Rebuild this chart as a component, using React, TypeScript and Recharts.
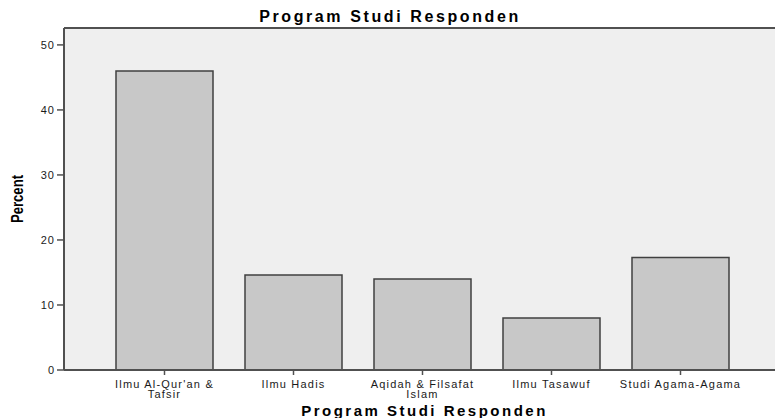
import React from 'react'
import { BarChart, Bar, XAxis, YAxis, CartesianGrid, ReferenceLine, Label } from 'recharts'

const categories = [
  "Ilmu Al-Qur'an &\nTafsir",
  'Ilmu Hadis',
  'Aqidah & Filsafat\nIslam',
  'Ilmu Tasawuf',
  'Studi Agama-Agama',
]
const percents = [46.0, 14.6, 14.0, 8.0, 17.3]
const yTicks = [0, 10, 20, 30, 40, 50]
const yMax = 52.6

const chartData = categories.map((name, i) => ({ name, percent: percents[i] }))

const FONT = '"Liberation Sans", Arial, sans-serif'
const AXIS = '#505050'

function CategoryTick(props: any) {
  const { x, y, payload } = props
  const lines = String(payload.value).split('\n')
  return (
    <text
      x={x}
      y={y + 11}
      textAnchor="middle"
      fontFamily={FONT}
      fontSize={11}
      letterSpacing={1.2}
      fill="#1a1a1a"
    >
      {lines.map((line, i) => (
        <tspan key={i} x={x} dy={i === 0 ? 0 : 9.5}>
          {line}
        </tspan>
      ))}
    </text>
  )
}

function PercentLabel(props: any) {
  const { viewBox } = props
  const cx = 17
  const cy = viewBox.y + viewBox.height / 2
  return (
    <text
      x={cx}
      y={cy}
      transform={`rotate(-90, ${cx}, ${cy})`}
      textAnchor="middle"
      dominantBaseline="central"
      fontFamily={FONT}
      fontWeight="bold"
      fontSize={17}
      textLength={48}
      lengthAdjust="spacingAndGlyphs"
      fill="#000"
    >
      Percent
    </text>
  )
}

function XTitle(props: any) {
  const { viewBox } = props
  return (
    <text
      x={viewBox.x + viewBox.width / 2 + 2}
      y={416}
      textAnchor="middle"
      fontFamily={FONT}
      fontWeight="bold"
      fontSize={15}
      letterSpacing={2.5}
      fill="#000"
    >
      Program Studi Responden
    </text>
  )
}

export default function App() {
  return (
    <div
      style={{
        position: 'absolute',
        left: 0,
        top: 0,
        width: 775,
        height: 418,
        overflow: 'hidden',
        background: '#fff',
      }}
    >
      <div
        style={{
          position: 'absolute',
          top: 9,
          left: 0,
          width: 775,
          textAlign: 'center',
          fontFamily: FONT,
          fontWeight: 'bold',
          fontSize: 16,
          lineHeight: '16px',
          letterSpacing: 2.6,
          color: '#000',
          paddingLeft: 5,
          boxSizing: 'border-box',
        }}
      >
        Program Studi Responden
      </div>
      <BarChart
        width={800}
        height={418}
        data={chartData}
        margin={{ top: 28, right: 19, bottom: 0, left: 0 }}
        barCategoryGap={16}
      >
        <CartesianGrid fill="#efefef" stroke="none" horizontal={false} vertical={false} />
        <XAxis
          dataKey="name"
          height={48}
          interval={0}
          padding={{ left: 36, right: 36 }}
          tick={<CategoryTick />}
          tickSize={5}
          tickLine={{ stroke: AXIS, strokeWidth: 1.5 }}
          axisLine={{ stroke: AXIS, strokeWidth: 2 }}
        >
          <Label content={<XTitle />} />
        </XAxis>
        <YAxis
          width={64}
          domain={[0, yMax]}
          ticks={yTicks}
          tickSize={7}
          tickLine={{ stroke: AXIS, strokeWidth: 1.5 }}
          axisLine={{ stroke: AXIS, strokeWidth: 2 }}
          tick={{ fontFamily: FONT, fontSize: 11, fill: '#1a1a1a', letterSpacing: 1 }}
        >
          <Label content={<PercentLabel />} />
        </YAxis>
        <ReferenceLine y={yMax} stroke={AXIS} strokeWidth={2} />
        <Bar
          dataKey="percent"
          fill="#c8c8c8"
          stroke="#404040"
          strokeWidth={1.5}
          isAnimationActive={false}
        />
      </BarChart>
    </div>
  )
}
